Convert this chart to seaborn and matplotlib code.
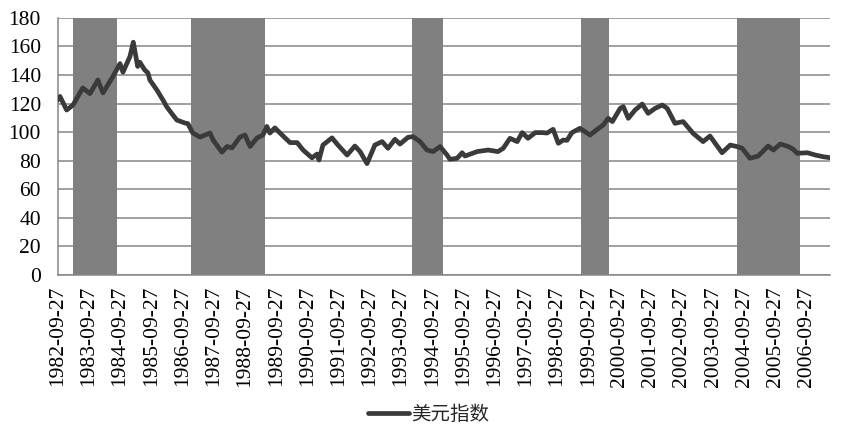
import matplotlib
matplotlib.use("Agg")
import pandas as pd
import matplotlib.pyplot as plt
import seaborn as sns

# 美元指数 readings (approx.)
dates = [
    "1982-09-27", "1982-10-24", "1983-01-10", "1983-03-25", "1983-07-18", "1983-10-10",
    "1984-01-10", "1984-03-10", "1984-07-05", "1984-09-25", "1984-10-30", "1985-01-20",
    "1985-02-28", "1985-04-20", "1985-05-15", "1985-07-12", "1985-08-18", "1985-09-10",
    "1985-12-01", "1986-02-10", "1986-03-28", "1986-05-25", "1986-07-22", "1986-10-25",
    "1986-11-28", "1987-01-25", "1987-04-20", "1987-08-15", "1987-09-20", "1988-01-01",
    "1988-03-01", "1988-04-28", "1988-07-30", "1988-09-27", "1988-11-25", "1989-02-15",
    "1989-04-25", "1989-06-10", "1989-07-15", "1989-09-12", "1989-12-05", "1990-03-08",
    "1990-05-30", "1990-08-08", "1990-11-20", "1991-01-18", "1991-02-10", "1991-03-28",
    "1991-07-12", "1991-09-20", "1992-01-05", "1992-04-05", "1992-06-05", "1992-08-25",
    "1992-11-25", "1993-02-18", "1993-04-28", "1993-07-18", "1993-09-15", "1993-12-18",
    "1994-02-15", "1994-05-08", "1994-07-28", "1994-10-08", "1994-12-28", "1995-03-20",
    "1995-04-22", "1995-07-15", "1995-09-12", "1995-10-16", "1996-03-05", "1996-07-12",
    "1996-11-05", "1997-01-05", "1997-03-25", "1997-06-18", "1997-08-15", "1997-10-22",
    "1998-01-15", "1998-04-05", "1998-06-02", "1998-08-12", "1998-10-12", "1998-12-08",
    "1999-01-22", "1999-03-20", "1999-06-22", "1999-10-18", "2000-01-10", "2000-03-20",
    "2000-05-18", "2000-07-05", "2000-10-05", "2000-11-10", "2001-01-08", "2001-03-28",
    "2001-06-20", "2001-08-28", "2001-11-18", "2002-02-10", "2002-04-08", "2002-07-08",
    "2002-10-12", "2003-02-05", "2003-06-02", "2003-08-22", "2003-10-22", "2004-01-10",
    "2004-04-15", "2004-07-05", "2004-09-02", "2004-12-02", "2005-03-08", "2005-07-02",
    "2005-09-02", "2005-11-22", "2006-02-25", "2006-04-22", "2006-06-08", "2006-10-05",
    "2007-01-05", "2007-04-08", "2007-06-28",
]
values = [
    122.5, 125.0, 115.5, 119.0, 131.0, 127.0,
    136.5, 127.5, 139.0, 148.0, 142.0, 153.0,
    163.0, 146.0, 149.0, 143.5, 141.5, 136.5,
    129.5, 122.5, 117.6, 113.0, 108.5, 106.4,
    106.0, 99.4, 96.6, 99.4, 94.5, 86.0,
    90.0, 89.0, 96.6, 98.0, 90.0, 96.0,
    98.0, 104.0, 99.4, 103.0, 98.0, 92.7,
    92.7, 87.5, 82.0, 84.7, 80.5, 91.0,
    96.0, 91.0, 84.0, 90.3, 86.4, 78.0,
    91.0, 93.4, 88.7, 95.0, 91.7, 96.4,
    96.9, 93.4, 87.5, 86.4, 89.9, 84.0,
    81.0, 81.7, 85.6, 83.3, 86.4, 87.5,
    86.4, 88.7, 95.7, 93.4, 99.7, 95.7,
    99.7, 99.7, 99.4, 102.0, 92.2, 94.5,
    94.3, 99.7, 102.7, 98.0, 102.0, 105.0,
    109.7, 107.4, 116.7, 117.9, 109.7, 115.5,
    119.7, 113.2, 116.7, 119.0, 116.7, 106.2,
    107.4, 99.2, 93.4, 97.3, 92.2, 85.6,
    91.0, 89.9, 88.7, 81.7, 83.3, 90.3,
    87.5, 91.7, 89.9, 88.0, 85.2, 85.6,
    84.0, 82.8, 82.1,
]

# 加息周期 (shaded bands)
shade_start = ["1983-03-25", "1987-01-05", "1994-02-04", "1999-06-30", "2004-06-30"]
shade_end = ["1984-08-20", "1989-05-20", "1995-02-05", "2000-05-25", "2006-07-05"]

tick_dates = pd.date_range("1982-09-27", "2006-09-27", freq=pd.DateOffset(years=1))
y_ticks = list(range(0, 181, 20))

df = pd.DataFrame({"date": pd.to_datetime(dates), "美元指数": values})

sns.set_style("white")
plt.rcParams["font.family"] = ["Liberation Serif", "Noto Sans CJK SC"]

fig = plt.figure(figsize=(8.47, 4.41), dpi=100)
ax = fig.add_axes([0.0681, 0.3764, 0.912, 0.583])

for s, e in zip(shade_start, shade_end):
    ax.axvspan(pd.Timestamp(s), pd.Timestamp(e), color="#808080", lw=0, zorder=1)

sns.lineplot(data=df, x="date", y="美元指数", ax=ax, color="#3a3a3a",
             linewidth=3.4, label="美元指数", zorder=3, legend=False)

ax.set_ylim(0, 180)
ax.set_yticks(y_ticks)
ax.set_xlim(pd.Timestamp("1982-09-27"), pd.Timestamp("2007-06-28"))
ax.set_xticks(tick_dates)
ax.set_xticklabels([d.strftime("%Y-%m-%d") for d in tick_dates], rotation=90)
ax.grid(axis="y", color="#868686", lw=1.1, zorder=0)
ax.set_axisbelow(True)
ax.set_xlabel("")
ax.set_ylabel("")

for side in ["top", "right"]:
    ax.spines[side].set_visible(False)
for side in ["left", "bottom"]:
    ax.spines[side].set_color("#868686")
    ax.spines[side].set_linewidth(1.1)

ax.tick_params(axis="both", which="major", length=5, width=1.1, color="#868686",
               labelsize=15.5, labelcolor="black", direction="out")
ax.tick_params(axis="y", pad=7)
ax.tick_params(axis="x", pad=3)

handles, labels = ax.get_lines()[0:1], ["美元指数"]
fig.legend(handles, labels, loc="center", bbox_to_anchor=(0.506, 0.06), frameon=False,
           handlelength=2.1, handletextpad=0.1,
           prop={"family": ["Noto Sans CJK SC"], "size": 14})

fig.savefig("out.png", dpi=100)
